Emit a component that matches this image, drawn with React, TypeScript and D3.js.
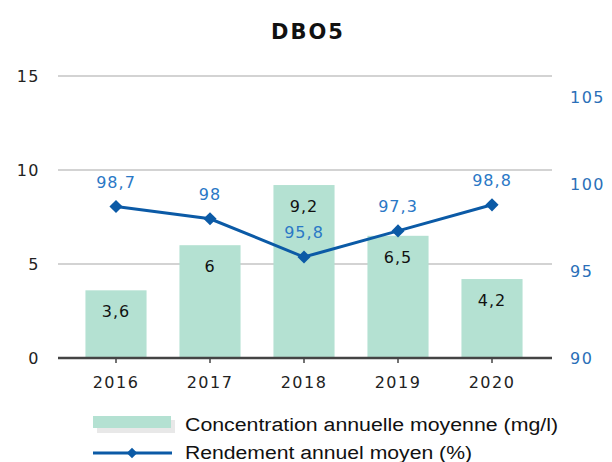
import React, { useEffect, useRef } from "react";
import * as d3 from "d3";

const years = ["2016", "2017", "2018", "2019", "2020"];
const concentration = [3.6, 6, 9.2, 6.5, 4.2];
const rendement = [98.7, 98, 95.8, 97.3, 98.8];
const leftTicks = [0, 5, 10, 15];
const rightTicks = [90, 95, 100, 105];

const fmt = (v: number) => String(v).replace(".", ",");

const App = () => {
  const svgRef = useRef<SVGSVGElement>(null);

  useEffect(() => {
    const svg = d3.select(svgRef.current);
    svg.selectAll("*").remove();

    const font = "DejaVu Sans, Verdana, sans-serif";
    const lineBlue = "#0b5aa6";
    const labelBlue = "#2a78c6";

    const x = d3.scaleBand().domain(years).range([69, 539]).paddingInner(0.35).paddingOuter(0.175);
    const y = d3.scaleLinear().domain([0, 15]).range([358, 76]);
    const y2 = d3.scaleLinear().domain([90, 106.2]).range([358, 76]);

    // title
    svg.append("text")
      .attr("x", 308).attr("y", 39)
      .attr("text-anchor", "middle")
      .attr("font-family", font).attr("font-weight", "bold")
      .attr("font-size", 21).attr("letter-spacing", 2)
      .attr("fill", "#111")
      .text("DBO5");

    // grid
    svg.append("g").selectAll("line")
      .data(leftTicks.filter(d => d > 0))
      .enter().append("line")
      .attr("x1", 58).attr("x2", 552)
      .attr("y1", d => y(d)).attr("y2", d => y(d))
      .attr("stroke", "#a8a8a8").attr("stroke-width", 1.2);

    // left axis labels
    svg.append("g").selectAll("text")
      .data(leftTicks)
      .enter().append("text")
      .attr("x", 40).attr("y", d => y(d) + 6)
      .attr("text-anchor", "end")
      .attr("font-family", font).attr("font-size", 16)
      .attr("letter-spacing", 1.5)
      .attr("fill", "#222")
      .text(d => d);

    // right axis labels
    svg.append("g").selectAll("text")
      .data(rightTicks)
      .enter().append("text")
      .attr("x", 570).attr("y", d => y2(d) + 6)
      .attr("font-family", font).attr("font-size", 16)
      .attr("letter-spacing", 1.5)
      .attr("fill", "#2a6fb8")
      .text(d => d);

    // bars
    svg.append("g").selectAll("rect")
      .data(concentration)
      .enter().append("rect")
      .attr("x", (d, i) => x(years[i]))
      .attr("width", x.bandwidth())
      .attr("y", d => y(d))
      .attr("height", d => y(0) - y(d))
      .attr("fill", "#b4e1d2");

    // baseline
    svg.append("line")
      .attr("x1", 58).attr("x2", 552)
      .attr("y1", y(0)).attr("y2", y(0))
      .attr("stroke", "#444").attr("stroke-width", 2.5);

    svg.append("g").selectAll("line")
      .data(years)
      .enter().append("line")
      .attr("x1", d => x(d) + x.bandwidth() / 2)
      .attr("x2", d => x(d) + x.bandwidth() / 2)
      .attr("y1", y(0)).attr("y2", y(0) + 5)
      .attr("stroke", "#444").attr("stroke-width", 1.5);

    // x labels
    svg.append("g").selectAll("text")
      .data(years)
      .enter().append("text")
      .attr("x", d => x(d) + x.bandwidth() / 2)
      .attr("y", 388)
      .attr("text-anchor", "middle")
      .attr("font-family", font).attr("font-size", 16)
      .attr("letter-spacing", 1.5)
      .attr("fill", "#222")
      .text(d => d);

    // bar labels
    svg.append("g").selectAll("text")
      .data(concentration)
      .enter().append("text")
      .attr("x", (d, i) => x(years[i]) + x.bandwidth() / 2)
      .attr("y", d => y(d) + 27)
      .attr("text-anchor", "middle")
      .attr("font-family", font).attr("font-size", 16)
      .attr("letter-spacing", 1)
      .attr("fill", "#111")
      .text(d => fmt(d));

    // line
    const cx = (i: number) => x(years[i]) + x.bandwidth() / 2;
    const line = d3.line<number>().x((d, i) => cx(i)).y(d => y2(d));
    svg.append("path")
      .datum(rendement)
      .attr("d", line)
      .attr("fill", "none")
      .attr("stroke", lineBlue).attr("stroke-width", 3);

    svg.append("g").selectAll("path")
      .data(rendement)
      .enter().append("path")
      .attr("d", d3.symbol().type(d3.symbolDiamond2).size(110))
      .attr("transform", (d, i) => `translate(${cx(i)},${y2(d)})`)
      .attr("fill", lineBlue);

    svg.append("g").selectAll("text")
      .data(rendement)
      .enter().append("text")
      .attr("x", (d, i) => cx(i))
      .attr("y", d => y2(d) - 19)
      .attr("text-anchor", "middle")
      .attr("font-family", font).attr("font-size", 16)
      .attr("letter-spacing", 1)
      .attr("fill", labelBlue)
      .text(d => fmt(d));

    // legend
    const lg = svg.append("g");
    lg.append("rect").attr("x", 97).attr("y", 420).attr("width", 78).attr("height", 13).attr("fill", "#e8e8e8");
    lg.append("rect").attr("x", 93).attr("y", 416).attr("width", 78).attr("height", 12).attr("fill", "#b4e1d2");
    lg.append("text")
      .attr("x", 185).attr("y", 431)
      .attr("font-family", "Liberation Sans, Arial, sans-serif").attr("font-size", 18)
      .attr("textLength", 373).attr("lengthAdjust", "spacingAndGlyphs")
      .attr("fill", "#111")
      .text("Concentration annuelle moyenne (mg/l)");
    lg.append("line").attr("x1", 93).attr("x2", 172).attr("y1", 453).attr("y2", 453)
      .attr("stroke", lineBlue).attr("stroke-width", 3);
    lg.append("path")
      .attr("d", d3.symbol().type(d3.symbolDiamond2).size(70))
      .attr("transform", "translate(132,453)")
      .attr("fill", lineBlue);
    lg.append("text")
      .attr("x", 185).attr("y", 459)
      .attr("font-family", "Liberation Sans, Arial, sans-serif").attr("font-size", 18)
      .attr("textLength", 287).attr("lengthAdjust", "spacingAndGlyphs")
      .attr("fill", "#111")
      .text("Rendement annuel moyen (%)");
  }, []);

  return <svg ref={svgRef} width={612} height={462} style={{ position: "absolute", left: 0, top: 0, background: "#fff" }} />;
};

export default App;
